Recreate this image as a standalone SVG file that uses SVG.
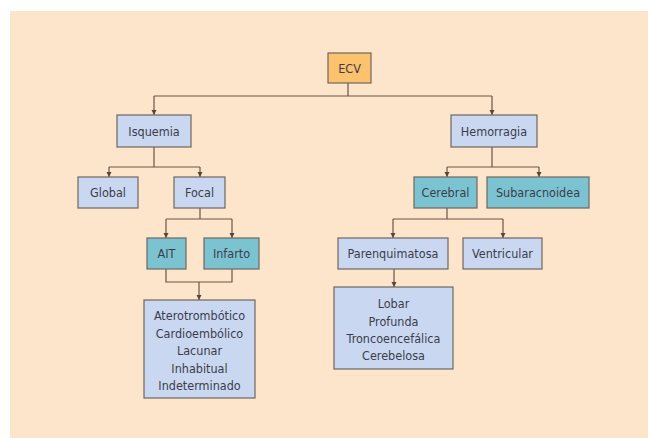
<svg xmlns="http://www.w3.org/2000/svg" width="648" height="438" viewBox="0 0 648 438">
<defs>
<marker id="ah" markerWidth="6" markerHeight="6" refX="5" refY="3" orient="auto" markerUnits="userSpaceOnUse">
<path d="M0,0.5 L5,3 L0,5.5 Z" fill="#5a4434"/>
</marker>
<style>
.b{stroke:#6e6660;stroke-width:1.2}
.l{fill:#c9d8f0}
.t{fill:#7cc3d2}
.o{fill:#fcc26e}
text{font-family:"Liberation Sans Narrow","DejaVu Sans Condensed","Liberation Sans",sans-serif;font-size:12.5px;fill:#3c3c4c;text-anchor:middle}
.c{fill:none;stroke:#6b5445;stroke-width:1.2}
</style>
</defs>
<rect width="648" height="438" fill="#ffffff"/>
<rect x="10" y="11" width="638" height="427" fill="#fde5cc"/>
<g id="connectors">
<path class="c" d="M348,83 V96 M154,96 H492"/>
<path class="c" d="M154,96 V115" marker-end="url(#ah)"/>
<path class="c" d="M492,96 V115" marker-end="url(#ah)"/>
<path class="c" d="M154,147 V167 M109,167 H200"/>
<path class="c" d="M109,167 V177" marker-end="url(#ah)"/>
<path class="c" d="M200,167 V177" marker-end="url(#ah)"/>
<path class="c" d="M200,208 V219 M166,219 H232"/>
<path class="c" d="M166,219 V238" marker-end="url(#ah)"/>
<path class="c" d="M232,219 V238" marker-end="url(#ah)"/>
<path class="c" d="M166,269 V282 H232 V269"/>
<path class="c" d="M199,282 V300" marker-end="url(#ah)"/>
<path class="c" d="M492,147 V167 M447,167 H539"/>
<path class="c" d="M447,167 V177" marker-end="url(#ah)"/>
<path class="c" d="M539,167 V177" marker-end="url(#ah)"/>
<path class="c" d="M447,208 V219 M393,219 H503"/>
<path class="c" d="M393,219 V238" marker-end="url(#ah)"/>
<path class="c" d="M503,219 V238" marker-end="url(#ah)"/>
<path class="c" d="M394,269 V287" marker-end="url(#ah)"/>
</g>
<g id="ecv"><rect class="b o" x="328" y="53" width="43" height="30"/><text x="349.5" y="72.5">ECV</text></g>
<g id="isquemia"><rect class="b l" x="117" y="115" width="74" height="32"/><text x="154" y="135.5">Isquemia</text></g>
<g id="hemorragia"><rect class="b l" x="451" y="115" width="86" height="32"/><text x="494" y="135.5">Hemorragia</text></g>
<g id="global"><rect class="b l" x="78" y="177" width="60" height="31"/><text x="108" y="197">Global</text></g>
<g id="focal"><rect class="b l" x="174" y="177" width="51" height="31"/><text x="199.5" y="197">Focal</text></g>
<g id="ait"><rect class="b t" x="147" y="238" width="39" height="31"/><text x="166.5" y="258">AIT</text></g>
<g id="infarto"><rect class="b t" x="204" y="238" width="55" height="31"/><text x="231.5" y="258">Infarto</text></g>
<g id="tipos"><rect class="b l" x="144" y="300" width="111" height="98"/>
<text x="199.5" y="320">Aterotrombótico</text>
<text x="199.5" y="337.5">Cardioembólico</text>
<text x="199.5" y="355">Lacunar</text>
<text x="199.5" y="372.5">Inhabitual</text>
<text x="199.5" y="390">Indeterminado</text></g>
<g id="cerebral"><rect class="b t" x="414" y="177" width="63" height="31"/><text x="445.5" y="197">Cerebral</text></g>
<g id="subaracnoidea"><rect class="b t" x="487" y="177" width="102" height="31"/><text x="538" y="197">Subaracnoidea</text></g>
<g id="parenquimatosa"><rect class="b l" x="338" y="238" width="110" height="31"/><text x="393" y="258">Parenquimatosa</text></g>
<g id="ventricular"><rect class="b l" x="463" y="238" width="79" height="31"/><text x="502.5" y="258">Ventricular</text></g>
<g id="localizacion"><rect class="b l" x="334" y="287" width="119" height="82"/>
<text x="393.5" y="308">Lobar</text>
<text x="393.5" y="325.5">Profunda</text>
<text x="393.5" y="342.5">Troncoencefálica</text>
<text x="393.5" y="359.5">Cerebelosa</text></g>
</svg>
